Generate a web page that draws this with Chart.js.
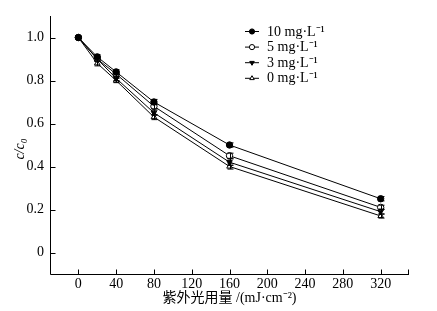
<!DOCTYPE html>
<html><head><meta charset="utf-8">
<script src="https://cdn.jsdelivr.net/npm/chart.js@4"></script>
<style>html,body{margin:0;padding:0;background:#fff}#w{width:437px;height:311px}</style>
</head><body><div id="w"><canvas id="c" width="437" height="311"></canvas></div>
<script>
const doses = [0, 20, 40, 80, 160, 320];
const xTicks = [0, 40, 80, 120, 160, 200, 240, 280, 320];
const yTicks = [0, 0.2, 0.4, 0.6, 0.8, 1.0];
const labels = ['10 mg·L⁻¹', '5 mg·L⁻¹', '3 mg·L⁻¹', '0 mg·L⁻¹'];
const s10 = [1.0, 0.91, 0.84, 0.70, 0.50, 0.25];
const s5  = [1.0, 0.90, 0.83, 0.68, 0.45, 0.21];
const s3  = [1.0, 0.90, 0.81, 0.65, 0.42, 0.19];
const s0  = [1.0, 0.88, 0.80, 0.63, 0.40, 0.17];
const e10 = [0.005, 0.01, 0.01, 0.012, 0.01, 0.01];
const e5  = [0.005, 0.01, 0.01, 0.012, 0.012, 0.01];
const e3  = [0.005, 0.01, 0.01, 0.012, 0.015, 0.012];
const e0  = [0.005, 0.012, 0.01, 0.012, 0.012, 0.01];

const serif = '"Liberation Serif", "Times New Roman", serif';
Chart.defaults.font.family = serif;
Chart.defaults.color = '#000';
const styles = [
  {ps:'circle', fill:'#000', rot:0},
  {ps:'circle', fill:'#fff', rot:0},
  {ps:'triangle', fill:'#000', rot:180},
  {ps:'triangle', fill:'#fff', rot:0}
];
const series = [s10, s5, s3, s0];
const errs = [e10, e5, e3, e0];
const datasets = series.map((s, i) => ({
  label: labels[i],
  data: doses.map((d, j) => ({x: d, y: s[j]})),
  err: errs[i],
  borderColor: '#000', borderWidth: 1,
  pointStyle: styles[i].ps, pointRotation: styles[i].rot,
  pointRadius: 3.2, pointBackgroundColor: styles[i].fill,
  pointBorderColor: '#000', pointBorderWidth: 1,
  tension: 0, fill: false
}));

const extras = {
  id: 'extras',
  afterDatasetsDraw(chart) {
    const ctx = chart.ctx, xs = chart.scales.x, ys = chart.scales.y, a = chart.chartArea;
    ctx.save();
    ctx.strokeStyle = '#000'; ctx.lineWidth = 1;
    // error bars
    chart.data.datasets.forEach(ds => {
      ds.data.forEach((p, j) => {
        const e = ds.err[j];
        const px = Math.round(xs.getPixelForValue(p.x)) + 0.5;
        const y1 = ys.getPixelForValue(p.y + e), y2 = ys.getPixelForValue(p.y - e);
        ctx.beginPath();
        ctx.moveTo(px, y1); ctx.lineTo(px, y2);
        ctx.moveTo(px - 3, y1); ctx.lineTo(px + 3, y1);
        ctx.moveTo(px - 3, y2); ctx.lineTo(px + 3, y2);
        ctx.stroke();
      });
    });
    // axes and inward ticks
    ctx.beginPath();
    const L = Math.round(a.left) + 0.5, B = Math.round(a.bottom) + 0.5;
    ctx.moveTo(L, Math.round(a.top)); ctx.lineTo(L, B); ctx.lineTo(Math.round(a.right), B);
    xs.ticks.forEach(t => {
      const px = Math.round(xs.getPixelForValue(t.value)) + 0.5;
      ctx.moveTo(px, B); ctx.lineTo(px, B - 5);
    });
    ctx.moveTo(Math.round(a.right) - 0.5, B); ctx.lineTo(Math.round(a.right) - 0.5, B - 5);
    ys.ticks.forEach(t => {
      const py = Math.round(ys.getPixelForValue(t.value)) + 0.5;
      ctx.moveTo(L, py); ctx.lineTo(L + 5, py);
    });
    ctx.stroke();
    // legend
    const lx = 245, ly = 31, dy = 15.6;
    ctx.font = '14px ' + serif; ctx.fillStyle = '#000'; ctx.textBaseline = 'middle';
    chart.data.datasets.forEach((ds, i) => {
      const y = ly + i * dy;
      ctx.beginPath(); ctx.moveTo(lx, y + 0.5); ctx.lineTo(lx + 14, y + 0.5); ctx.stroke();
      ctx.fillStyle = ds.pointBackgroundColor; ctx.strokeStyle = '#000';
      Chart.helpers.drawPoint(ctx, {pointStyle: ds.pointStyle, rotation: ds.pointRotation, radius: 2.6, borderWidth: 1}, lx + 7, y + 0.5);
      ctx.fillStyle = '#000';
      ctx.fillText(ds.label, lx + 22, y + 1);
    });
    // y title
    ctx.save();
    ctx.translate(24, 149); ctx.rotate(-Math.PI / 2);
    ctx.textAlign = 'center'; ctx.textBaseline = 'alphabetic'; ctx.font = 'italic 14px ' + serif;
    ctx.fillText('c/c₀', 0, 0);
    ctx.restore();
    ctx.restore();
  }
};

new Chart(document.getElementById('c'), {
  type: 'line',
  data: {datasets},
  options: {
    responsive: false, animation: false,
    layout: {padding: {left: 0, top: 16, right: 28, bottom: 4}},
    plugins: {legend: {display: false}, tooltip: {enabled: false}},
    scales: {
      x: {
        type: 'linear', min: -30, max: 350,
        afterBuildTicks: s => { s.ticks = xTicks.map(v => ({value: v})); },
        afterFit: s => { s.height = 33; },
        border: {display: false},
        grid: {display: false, drawTicks: false},
        ticks: {color: '#000', font: {family: serif, size: 14}, padding: 2, maxRotation: 0,
                callback: v => String(v)},
        title: {display: true, text: '紫外光用量 /(mJ·cm⁻²)', color: '#000',
                font: {family: serif + ', "Noto Sans CJK SC"', size: 14}, padding: {top: 0, bottom: 0}}
      },
      y: {
        type: 'linear', min: -0.1, max: 1.1,
        afterBuildTicks: s => { s.ticks = yTicks.map(v => ({value: v})); },
        afterFit: s => { s.width = 50; },
        border: {display: false},
        grid: {display: false, drawTicks: false},
        ticks: {color: '#000', font: {family: serif, size: 14}, padding: 6,
                callback: v => v === 0 ? '0' : v.toFixed(1)}
      }
    }
  },
  plugins: [extras]
});
</script></body></html>
